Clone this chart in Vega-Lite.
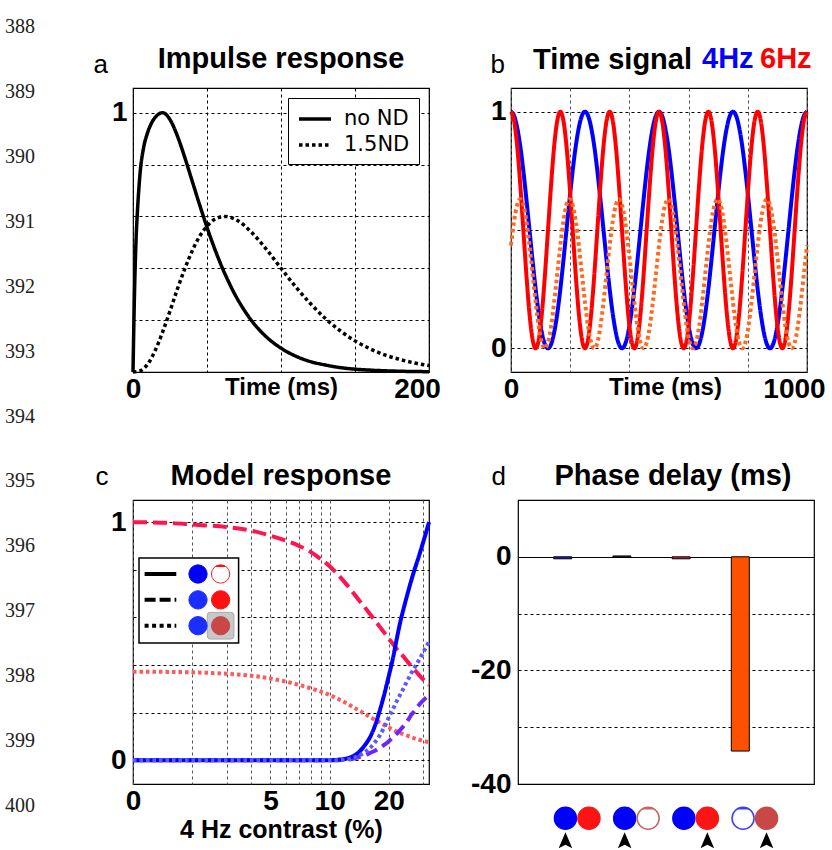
{
"$schema":"https://vega.github.io/schema/vega-lite/v6.json",
"padding":{"top":17,"left":0,"right":0,"bottom":0},
"background":"white",
"config":{
 "font":"Liberation Sans",
 "view":{"stroke":"#000","strokeWidth":1.2},
 "axis":{"domain":false,"ticks":false,"grid":true,"gridColor":"#000","gridDash":[3,3],"gridWidth":1,"gridOpacity":1,"labelFont":"Liberation Sans","labelFontWeight":"bold","labelFontSize":28,"labelColor":"#000","labelFlush":false,"labelOverlap":false,"titleFont":"Liberation Sans","titleFontWeight":"bold","titleColor":"#000"},
 "title":{"font":"Liberation Sans","fontWeight":"bold","fontSize":29,"color":"#000","frame":"group","baseline":"alphabetic","anchor":"middle"},
 "legend":{"labelFont":"DejaVu Sans","labelColor":"#000"}
},
"datasets":{
 "imp":[
  {"t":0,"s":"no ND","v":0},{"t":1,"s":"no ND","v":0.3},{"t":2,"s":"no ND","v":0.5},{"t":3,"s":"no ND","v":0.62},{"t":4,"s":"no ND","v":0.71},{"t":5,"s":"no ND","v":0.78},{"t":7,"s":"no ND","v":0.86},{"t":10,"s":"no ND","v":0.925},{"t":13,"s":"no ND","v":0.965},{"t":16,"s":"no ND","v":0.988},{"t":20,"s":"no ND","v":1.0},{"t":25,"s":"no ND","v":0.973},{"t":30,"s":"no ND","v":0.91},{"t":35,"s":"no ND","v":0.827},{"t":40,"s":"no ND","v":0.736},{"t":45,"s":"no ND","v":0.645},{"t":50,"s":"no ND","v":0.558},{"t":55,"s":"no ND","v":0.478},{"t":60,"s":"no ND","v":0.406},{"t":65,"s":"no ND","v":0.343},{"t":70,"s":"no ND","v":0.287},{"t":75,"s":"no ND","v":0.24},{"t":80,"s":"no ND","v":0.199},{"t":90,"s":"no ND","v":0.136},{"t":100,"s":"no ND","v":0.092},{"t":110,"s":"no ND","v":0.061},{"t":120,"s":"no ND","v":0.04},{"t":130,"s":"no ND","v":0.027},{"t":140,"s":"no ND","v":0.017},{"t":150,"s":"no ND","v":0.011},{"t":160,"s":"no ND","v":0.0073},{"t":180,"s":"no ND","v":0.003},{"t":200,"s":"no ND","v":0.0012},
  {"t":0,"s":"1.5ND","v":0},{"t":5,"s":"1.5ND","v":0.005},{"t":10,"s":"1.5ND","v":0.031},{"t":15,"s":"1.5ND","v":0.083},{"t":20,"s":"1.5ND","v":0.154},{"t":25,"s":"1.5ND","v":0.235},{"t":30,"s":"1.5ND","v":0.32},{"t":35,"s":"1.5ND","v":0.398},{"t":40,"s":"1.5ND","v":0.467},{"t":45,"s":"1.5ND","v":0.523},{"t":50,"s":"1.5ND","v":0.562},{"t":55,"s":"1.5ND","v":0.588},{"t":62,"s":"1.5ND","v":0.6},{"t":70,"s":"1.5ND","v":0.586},{"t":80,"s":"1.5ND","v":0.539},{"t":90,"s":"1.5ND","v":0.474},{"t":100,"s":"1.5ND","v":0.4},{"t":110,"s":"1.5ND","v":0.328},{"t":120,"s":"1.5ND","v":0.263},{"t":130,"s":"1.5ND","v":0.206},{"t":140,"s":"1.5ND","v":0.159},{"t":150,"s":"1.5ND","v":0.12},{"t":160,"s":"1.5ND","v":0.09},{"t":170,"s":"1.5ND","v":0.066},{"t":180,"s":"1.5ND","v":0.049},{"t":190,"s":"1.5ND","v":0.035},{"t":200,"s":"1.5ND","v":0.025}
 ],
 "sig":[
{"t":0,"a":1,"b":1,"c":0.435},{"t":10.4,"a":0.983,"b":0.962,"c":0.538},{"t":20.8,"a":0.933,"b":0.854,"c":0.606},{"t":31.3,"a":0.854,"b":0.691,"c":0.63},{"t":41.7,"a":0.75,"b":0.5,"c":0.606},{"t":52.1,"a":0.629,"b":0.309,"c":0.538},{"t":62.5,"a":0.5,"b":0.146,"c":0.435},{"t":72.9,"a":0.371,"b":0.038,"c":0.315},{"t":83.3,"a":0.25,"b":0,"c":0.195},{"t":93.8,"a":0.146,"b":0.038,"c":0.092},{"t":104.2,"a":0.067,"b":0.146,"c":0.024},{"t":114.6,"a":0.017,"b":0.309,"c":0},{"t":125,"a":0,"b":0.5,"c":0.024},{"t":135.4,"a":0.017,"b":0.691,"c":0.092},{"t":145.8,"a":0.067,"b":0.854,"c":0.195},{"t":156.3,"a":0.146,"b":0.962,"c":0.315},{"t":166.7,"a":0.25,"b":1,"c":0.435},{"t":177.1,"a":0.371,"b":0.962,"c":0.538},{"t":187.5,"a":0.5,"b":0.854,"c":0.606},{"t":197.9,"a":0.629,"b":0.691,"c":0.63},{"t":208.3,"a":0.75,"b":0.5,"c":0.606},{"t":218.8,"a":0.854,"b":0.309,"c":0.538},{"t":229.2,"a":0.933,"b":0.146,"c":0.435},{"t":239.6,"a":0.983,"b":0.038,"c":0.315},{"t":250,"a":1,"b":0,"c":0.195},{"t":260.4,"a":0.983,"b":0.038,"c":0.092},{"t":270.8,"a":0.933,"b":0.146,"c":0.024},{"t":281.3,"a":0.854,"b":0.309,"c":0},{"t":291.7,"a":0.75,"b":0.5,"c":0.024},{"t":302.1,"a":0.629,"b":0.691,"c":0.092},{"t":312.5,"a":0.5,"b":0.854,"c":0.195},{"t":322.9,"a":0.371,"b":0.962,"c":0.315},{"t":333.3,"a":0.25,"b":1,"c":0.435},{"t":343.8,"a":0.146,"b":0.962,"c":0.538},{"t":354.2,"a":0.067,"b":0.854,"c":0.606},{"t":364.6,"a":0.017,"b":0.691,"c":0.63},{"t":375,"a":0,"b":0.5,"c":0.606},{"t":385.4,"a":0.017,"b":0.309,"c":0.538},{"t":395.8,"a":0.067,"b":0.146,"c":0.435},{"t":406.3,"a":0.146,"b":0.038,"c":0.315},{"t":416.7,"a":0.25,"b":0,"c":0.195},{"t":427.1,"a":0.371,"b":0.038,"c":0.092},{"t":437.5,"a":0.5,"b":0.146,"c":0.024},{"t":447.9,"a":0.629,"b":0.309,"c":0},{"t":458.3,"a":0.75,"b":0.5,"c":0.024},{"t":468.8,"a":0.854,"b":0.691,"c":0.092},{"t":479.2,"a":0.933,"b":0.854,"c":0.195},{"t":489.6,"a":0.983,"b":0.962,"c":0.315},{"t":500,"a":1,"b":1,"c":0.435},
{"t":510.4,"a":0.983,"b":0.962,"c":0.538},{"t":520.8,"a":0.933,"b":0.854,"c":0.606},{"t":531.3,"a":0.854,"b":0.691,"c":0.63},{"t":541.7,"a":0.75,"b":0.5,"c":0.606},{"t":552.1,"a":0.629,"b":0.309,"c":0.538},{"t":562.5,"a":0.5,"b":0.146,"c":0.435},{"t":572.9,"a":0.371,"b":0.038,"c":0.315},{"t":583.3,"a":0.25,"b":0,"c":0.195},{"t":593.8,"a":0.146,"b":0.038,"c":0.092},{"t":604.2,"a":0.067,"b":0.146,"c":0.024},{"t":614.6,"a":0.017,"b":0.309,"c":0},{"t":625,"a":0,"b":0.5,"c":0.024},{"t":635.4,"a":0.017,"b":0.691,"c":0.092},{"t":645.8,"a":0.067,"b":0.854,"c":0.195},{"t":656.3,"a":0.146,"b":0.962,"c":0.315},{"t":666.7,"a":0.25,"b":1,"c":0.435},{"t":677.1,"a":0.371,"b":0.962,"c":0.538},{"t":687.5,"a":0.5,"b":0.854,"c":0.606},{"t":697.9,"a":0.629,"b":0.691,"c":0.63},{"t":708.3,"a":0.75,"b":0.5,"c":0.606},{"t":718.8,"a":0.854,"b":0.309,"c":0.538},{"t":729.2,"a":0.933,"b":0.146,"c":0.435},{"t":739.6,"a":0.983,"b":0.038,"c":0.315},{"t":750,"a":1,"b":0,"c":0.195},{"t":760.4,"a":0.983,"b":0.038,"c":0.092},{"t":770.8,"a":0.933,"b":0.146,"c":0.024},{"t":781.3,"a":0.854,"b":0.309,"c":0},{"t":791.7,"a":0.75,"b":0.5,"c":0.024},{"t":802.1,"a":0.629,"b":0.691,"c":0.092},{"t":812.5,"a":0.5,"b":0.854,"c":0.195},{"t":822.9,"a":0.371,"b":0.962,"c":0.315},{"t":833.3,"a":0.25,"b":1,"c":0.435},{"t":843.8,"a":0.146,"b":0.962,"c":0.538},{"t":854.2,"a":0.067,"b":0.854,"c":0.606},{"t":864.6,"a":0.017,"b":0.691,"c":0.63},{"t":875,"a":0,"b":0.5,"c":0.606},{"t":885.4,"a":0.017,"b":0.309,"c":0.538},{"t":895.8,"a":0.067,"b":0.146,"c":0.435},{"t":906.3,"a":0.146,"b":0.038,"c":0.315},{"t":916.7,"a":0.25,"b":0,"c":0.195},{"t":927.1,"a":0.371,"b":0.038,"c":0.092},{"t":937.5,"a":0.5,"b":0.146,"c":0.024},{"t":947.9,"a":0.629,"b":0.309,"c":0},{"t":958.3,"a":0.75,"b":0.5,"c":0.024},{"t":968.8,"a":0.854,"b":0.691,"c":0.092},{"t":979.2,"a":0.933,"b":0.854,"c":0.195},{"t":989.6,"a":0.983,"b":0.962,"c":0.315},{"t":1000,"a":1,"b":1,"c":0.435}
 ],
 "mod":[
{"c":1,"rd":1,"rt":0.372,"bs":0,"bt":0,"pd":0},{"c":1.5,"rd":0.997,"rt":0.371,"bs":0,"bt":0,"pd":0},{"c":2,"rd":0.99,"rt":0.369,"bs":0,"bt":0,"pd":0},{"c":3,"rd":0.979,"rt":0.363,"bs":0,"bt":0,"pd":0},{"c":4,"rd":0.964,"rt":0.355,"bs":0,"bt":0,"pd":0},{"c":5,"rd":0.943,"rt":0.343,"bs":0,"bt":0,"pd":0},{"c":6,"rd":0.922,"rt":0.33,"bs":0,"bt":0,"pd":0},{"c":7,"rd":0.9,"rt":0.316,"bs":0,"bt":0,"pd":0},{"c":8,"rd":0.875,"rt":0.302,"bs":0,"bt":0,"pd":0},{"c":9,"rd":0.845,"rt":0.288,"bs":0,"bt":0,"pd":0},{"c":10,"rd":0.815,"rt":0.274,"bs":0,"bt":0,"pd":0},{"c":11,"rd":0.78,"rt":0.258,"bs":0.002,"bt":0,"pd":0},{"c":12,"rd":0.745,"rt":0.242,"bs":0.006,"bt":0.002,"pd":0.001},{"c":13,"rd":0.71,"rt":0.226,"bs":0.015,"bt":0.008,"pd":0.005},{"c":14,"rd":0.675,"rt":0.21,"bs":0.032,"bt":0.018,"pd":0.012},{"c":15,"rd":0.645,"rt":0.196,"bs":0.06,"bt":0.032,"pd":0.02},{"c":16,"rd":0.615,"rt":0.182,"bs":0.095,"bt":0.05,"pd":0.03},{"c":17,"rd":0.587,"rt":0.17,"bs":0.145,"bt":0.075,"pd":0.04},{"c":18,"rd":0.56,"rt":0.158,"bs":0.21,"bt":0.105,"pd":0.052},{"c":19,"rd":0.535,"rt":0.147,"bs":0.28,"bt":0.14,"pd":0.065},{"c":20,"rd":0.51,"rt":0.137,"bs":0.355,"bt":0.18,"pd":0.08},{"c":21,"rd":0.488,"rt":0.128,"bs":0.43,"bt":0.215,"pd":0.096},{"c":22,"rd":0.466,"rt":0.12,"bs":0.515,"bt":0.25,"pd":0.112},{"c":23,"rd":0.448,"rt":0.113,"bs":0.59,"bt":0.28,"pd":0.13},{"c":24,"rd":0.43,"rt":0.108,"bs":0.65,"bt":0.31,"pd":0.148},{"c":25,"rd":0.412,"rt":0.102,"bs":0.705,"bt":0.338,"pd":0.168},{"c":26,"rd":0.395,"rt":0.097,"bs":0.755,"bt":0.365,"pd":0.19},{"c":27,"rd":0.38,"rt":0.092,"bs":0.8,"bt":0.388,"pd":0.207},{"c":28,"rd":0.365,"rt":0.088,"bs":0.84,"bt":0.41,"pd":0.225},{"c":30,"rd":0.338,"rt":0.081,"bs":0.92,"bt":0.455,"pd":0.252},{"c":32,"rd":0.316,"rt":0.075,"bs":1,"bt":0.497,"pd":0.274}
 ]
},
"spacing":52,
"resolve":{"scale":{"color":"independent","strokeDash":"independent","fill":"independent","stroke":"independent"},"legend":{"color":"independent","strokeDash":"independent"}},
"hconcat":[
 {
  "width":40,"height":779,
  "view":{"stroke":null},
  "data":{"values":[{"n":388},{"n":389},{"n":390},{"n":391},{"n":392},{"n":393},{"n":394},{"n":395},{"n":396},{"n":397},{"n":398},{"n":399},{"n":400}]},
  "mark":{"type":"text","font":"Liberation Serif","fontSize":20,"fill":"#222","baseline":"middle"},
  "encoding":{
   "y":{"field":"n","type":"quantitative","scale":{"domain":[388.9396,400.9396],"reverse":true,"nice":false,"zero":false},"axis":null},
   "text":{"field":"n","type":"nominal"}
  }
 },
 {
  "spacing":57,
  "resolve":{"scale":{"color":"independent","strokeDash":"independent","fill":"independent","stroke":"independent"},"legend":{"color":"independent","strokeDash":"independent"}},
  "vconcat":[
   {
    "spacing":48,
    "resolve":{"scale":{"color":"independent","strokeDash":"independent","fill":"independent","stroke":"independent"},"legend":{"color":"independent","strokeDash":"independent"}},
    "hconcat":[
     {
      "width":296,"height":284,
      "title":{"text":"Impulse response","offset":-23},
      "data":{"name":"imp"},
      "mark":{"type":"line","color":"#000","strokeWidth":3.5,"interpolate":"monotone"},
      "encoding":{
       "x":{"field":"t","type":"quantitative","scale":{"domain":[0,200],"nice":false},
        "axis":{"values":[0,50,100,150,200],"title":null,"labelPadding":3,
         "labelExpr":"datum.value==0?'0':datum.value==100?'Time (ms)':datum.value==200?'200':''",
         "labelFontSize":{"condition":{"test":"datum.value==100","value":24},"value":28},
         "labelOffset":{"condition":{"test":"datum.value==200","value":-12},"value":0}}},
       "y":{"field":"v","type":"quantitative","scale":{"domain":[0,1.095],"nice":false,"zero":false},
        "axis":{"values":[0.2,0.4,0.6,0.8,1],"labelExpr":"datum.value==1?'1':''","labelPadding":6,
         "title":"a","titleAngle":0,"titleAlign":"left","titleBaseline":"alphabetic","titleX":-40,"titleY":-16,"titleFontSize":26,"titleFontWeight":"normal"}},
       "strokeDash":{"field":"s","type":"nominal","scale":{"domain":["no ND","1.5ND"],"range":[[1,0],[3.5,3]]},
        "legend":{"title":null,"orient":"top-right","offset":10,"fillColor":"#fff","strokeColor":"#000","padding":9,"labelFontSize":21,"labelFont":"DejaVu Sans","labelOffset":23,"symbolType":"M-1,0L2.2,0","symbolSize":400,"symbolStrokeWidth":3.5,"symbolStrokeColor":"#000","rowPadding":4}}
      }
     },
     {
      "width":296,"height":284,
      "title":{"text":"Time signal","anchor":"start","dx":22,"offset":-31},
      "data":{"name":"sig"},
      "transform":[{"fold":["a","b","c"],"as":["s","v"]}],
      "mark":{"type":"line","strokeWidth":4,"interpolate":"monotone"},
      "encoding":{
       "x":{"field":"t","type":"quantitative","scale":{"domain":[0,1000],"nice":false},
        "axis":{"values":[0,200,400,520,600,800,1000],"title":null,"labelPadding":3,"gridColor":"#555",
         "gridOpacity":{"condition":{"test":"datum.value==520","value":0},"value":1},
         "labelExpr":"datum.value==0?'0':datum.value==520?'Time (ms)':datum.value==1000?'1000':''",
         "labelFontSize":{"condition":{"test":"datum.value==520","value":24},"value":28},
         "labelOffset":{"condition":{"test":"datum.value==1000","value":-13},"value":0}}},
       "y":{"field":"v","type":"quantitative","scale":{"domain":[-0.1,1.1],"nice":false,"zero":false},
        "axis":{"values":[0,0.5,1],"labelExpr":"datum.value==1?'1':datum.value==0?'0':''","labelPadding":5,
         "title":"b","titleAngle":0,"titleAlign":"left","titleBaseline":"alphabetic","titleX":-21,"titleY":-16,"titleFontSize":26,"titleFontWeight":"normal"}},
       "color":{"field":"s","type":"nominal","scale":{"domain":["a","b","c"],"range":["#0000ff","#ff0000","#ff6a1f"]},
        "legend":{"values":["a"],"title":null,"orient":"none","legendX":162,"legendY":-44,"padding":0,"symbolSize":0,"symbolStrokeWidth":0,"symbolOpacity":0,"labelOffset":0,"labelFont":"Liberation Sans","labelFontSize":29,"labelFontWeight":"bold","labelColor":"#0000ff","labelExpr":"'4Hz'"}},
       "strokeDash":{"field":"s","type":"nominal","scale":{"domain":["b","c","a"],"range":[[1,0],[3.5,3],[1,0]]},
        "legend":{"values":["b"],"title":null,"orient":"none","legendX":220,"legendY":-44,"padding":0,"symbolSize":0,"symbolStrokeWidth":0,"symbolOpacity":0,"labelOffset":0,"labelFont":"Liberation Sans","labelFontSize":29,"labelFontWeight":"bold","labelColor":"#ff0000","labelExpr":"'6Hz'"}}
      }
     }
    ]
   },
   {
    "spacing":31,
    "resolve":{"scale":{"color":"independent","strokeDash":"independent","fill":"independent","stroke":"independent"},"legend":{"color":"independent","strokeDash":"independent"}},
    "hconcat":[
     {
      "width":296,"height":284,
      "title":{"text":"Model response","offset":-28},
      "layer":[
       {
        "data":{"name":"mod"},
        "transform":[{"fold":["rt","rd","pd","bs","bt"],"as":["s","v"]}],
        "mark":{"type":"line","strokeWidth":4,"interpolate":"monotone"},
        "encoding":{
         "x":{"field":"c","type":"quantitative","scale":{"type":"log","domain":[1,32],"nice":false},
          "axis":{"values":[1,2,3,4,5,6,7,8,9,10,20,30],"gridColor":"#555","labelPadding":3,
           "labelExpr":"datum.value==1?'0':datum.value==5?'5':datum.value==10?'10':datum.value==20?'20':''",
           "title":"4 Hz contrast (%)","titleFontSize":25,"titlePadding":2}},
         "y":{"field":"v","type":"quantitative","scale":{"domain":[-0.1,1.093],"nice":false,"zero":false},
          "axis":{"values":[0,0.2,0.4,0.6,0.8,1],"labelExpr":"datum.value==1?'1':datum.value==0?'0':''","labelPadding":7,
           "title":"c","titleAngle":0,"titleAlign":"left","titleBaseline":"alphabetic","titleX":-38,"titleY":-16,"titleFontSize":26,"titleFontWeight":"normal"}},
         "color":{"field":"s","type":"nominal","scale":{"domain":["rt","rd","pd","bs","bt"],"range":["#ff5a5a","#ff1450","#6a28ff","#0000ff","#5a5aff"]},"legend":null},
         "strokeDash":{"field":"s","type":"nominal","scale":{"domain":["rt","rd","pd","bs","bt"],"range":[[3.5,3],[14,6],[12,6],[1,0],[3.5,3]]},"legend":null}
        }
       },
       {
        "layer":[
         {
          "data":{"values":[{"row":1,"slot":"L"}]},
          "mark":{"type":"point","shape":"M-5.9,-4.185H4.06V4.315H-5.9Z","size":400,"filled":true,"fill":"#fff","stroke":"#000","strokeWidth":1.5,"opacity":1},
          "encoding":{
           "x":{"field":"slot","type":"nominal","scale":{"type":"point","domain":["line","L","R"],"range":[42.4,87.6],"padding":0},"axis":null},
           "y":{"field":"row","type":"ordinal","scale":{"type":"point","domain":[0,1,2],"range":[74,125.7],"padding":0},"axis":null}
          }
         },
         {
          "data":{"values":[{"row":2,"slot":"R"}]},
          "mark":{"type":"point","shape":"M-1.035,-1.335H1.035Q1.335,-1.335 1.335,-1.035V1.035Q1.335,1.335 1.035,1.335H-1.035Q-1.335,1.335 -1.335,1.035V-1.035Q-1.335,-1.335 -1.035,-1.335Z","size":400,"filled":true,"fill":"#c8c8c8","stroke":"#a8a8a8","strokeWidth":1,"opacity":1},
          "encoding":{
           "x":{"field":"slot","type":"nominal","axis":null},
           "y":{"field":"row","type":"ordinal","axis":null}
          }
         },
         {
          "data":{"values":[{"row":0,"slot":"L","k":"b1"},{"row":0,"slot":"R","k":"open"},{"row":1,"slot":"L","k":"b2"},{"row":1,"slot":"R","k":"red"},{"row":2,"slot":"L","k":"b2"},{"row":2,"slot":"R","k":"dark"}]},
          "mark":{"type":"point","shape":"circle","size":335,"filled":true,"strokeWidth":1,"opacity":1},
          "encoding":{
           "x":{"field":"slot","type":"nominal","axis":null},
           "y":{"field":"row","type":"ordinal","axis":null},
           "fill":{"field":"k","type":"nominal","scale":{"domain":["b1","b2","open","red","dark"],"range":["#0000ff","#1a2eff","#ffffff","#ff1010","#c84848"]},"legend":null},
           "stroke":{"field":"k","type":"nominal","scale":{"domain":["b1","b2","open","red","dark"],"range":["#0000ff","#1a2eff","#ff2020","#ff1010","#c84848"]},"legend":null}
          }
         },
         {
          "data":{"values":[{"row":0,"slot":"R"}]},
          "mark":{"type":"point","shape":"M-0.589,-0.7A0.915,0.915 0 0 1 0.589,-0.7Z","size":400,"filled":true,"fill":"#ff1010","strokeWidth":0,"opacity":1},
          "encoding":{
           "x":{"field":"slot","type":"nominal","axis":null},
           "y":{"field":"row","type":"ordinal","axis":null}
          }
         },
         {
          "data":{"values":[{"row":0,"slot":"line","st":"solid"},{"row":1,"slot":"line","st":"dash"},{"row":2,"slot":"line","st":"dot"}]},
          "mark":{"type":"point","shape":"M-3.08,0L0.09,0","size":400,"filled":false,"stroke":"#000","strokeWidth":4,"opacity":1,"strokeCap":"butt"},
          "encoding":{
           "x":{"field":"slot","type":"nominal","axis":null},
           "y":{"field":"row","type":"ordinal","axis":null},
           "strokeDash":{"field":"st","type":"nominal","scale":{"domain":["solid","dash","dot"],"range":[[1,0],[11,4],[4,3.5]]},"legend":null}
          }
         }
        ]
       }
      ],
      "resolve":{"scale":{"x":"independent","y":"independent","color":"independent","strokeDash":"independent","fill":"independent","stroke":"independent"}}
     },
     {
      "width":296,"height":284,
      "title":{"text":"Phase delay (ms)","offset":-28,"dx":7},
      "layer":[
       {
        "data":{"values":[{"cond":1,"delay":-0.35,"k":"c1"},{"cond":2,"delay":0.15,"k":"c2"},{"cond":3,"delay":-0.35,"k":"c3"},{"cond":4,"delay":-34.2,"k":"c4"}]},
        "mark":{"type":"bar","stroke":"#000","strokeWidth":1},
        "encoding":{
         "x":{"field":"cond","type":"ordinal","scale":{"type":"band","domain":[1,2,3,4],"paddingInner":0.206,"paddingOuter":0.603},"axis":null},
         "y":{"field":"delay","type":"quantitative","scale":{"domain":[-40,10],"nice":false},
          "axis":{"values":[-40,-30,-20,-10,0],"labelExpr":"datum.value==0?'0':datum.value==-20?'-20':datum.value==-40?'-40':''","labelPadding":7,
           "gridDash":{"condition":{"test":"datum.value==0","value":[]},"value":[3,3]},
           "title":"d","titleAngle":0,"titleAlign":"left","titleBaseline":"alphabetic","titleX":-27,"titleY":-16,"titleFontSize":26,"titleFontWeight":"normal"}},
         "fill":{"field":"k","type":"nominal","scale":{"domain":["c1","c2","c3","c4"],"range":["#2020e0","#666666","#e02050","#ff5000"]},"legend":null}
        }
       },
       {
        "layer":[
         {
          "data":{"values":[{"cond":1,"side":"L","part":"c","k":"blue"},{"cond":1,"side":"R","part":"c","k":"red"},{"cond":2,"side":"L","part":"c","k":"blue"},{"cond":2,"side":"R","part":"c","k":"oBrown"},{"cond":3,"side":"L","part":"c","k":"blue"},{"cond":3,"side":"R","part":"c","k":"red"},{"cond":4,"side":"L","part":"c","k":"oBlue"},{"cond":4,"side":"R","part":"c","k":"dark"}]},
          "mark":{"type":"point","shape":"circle","size":484,"filled":true,"strokeWidth":1.5,"opacity":1},
          "encoding":{
           "x":{"field":"cond","type":"ordinal","axis":null},
           "xOffset":{"field":"side","type":"nominal","scale":{"domain":["L","R"]}},
           "y":{"field":"part","type":"nominal","scale":{"type":"point","domain":["c","a"],"range":[318.3,340.3],"padding":0},"axis":null},
           "fill":{"field":"k","type":"nominal","scale":{"domain":["blue","red","oBrown","oBlue","dark"],"range":["#0000ff","#ff1414","#ffffff","#ffffff","#c84848"]},"legend":null},
           "stroke":{"field":"k","type":"nominal","scale":{"domain":["blue","red","oBrown","oBlue","dark"],"range":["#0000ff","#ff1414","#c86464","#3c3cff","#c84848"]},"legend":null}
          }
         },
         {
          "data":{"values":[{"cond":2,"side":"R","part":"c","k":"capB"},{"cond":4,"side":"L","part":"c","k":"capU"}]},
          "mark":{"type":"point","shape":"M-0.6,-0.8A1,1 0 0 1 0.6,-0.8Z","size":484,"filled":true,"strokeWidth":0,"opacity":1},
          "encoding":{
           "x":{"field":"cond","type":"ordinal","axis":null},
           "xOffset":{"field":"side","type":"nominal","scale":{"domain":["L","R"]}},
           "y":{"field":"part","type":"nominal","axis":null},
           "color":{"field":"k","type":"nominal","scale":{"domain":["capB","capU"],"range":["#c86464","#3c3cff"]},"legend":null}
          }
         },
         {
          "data":{"values":[{"cond":1,"side":"L","part":"a"},{"cond":2,"side":"L","part":"a"},{"cond":3,"side":"R","part":"a"},{"cond":4,"side":"R","part":"a"}]},
          "mark":{"type":"point","shape":"M0,-1L0.85,1L0,0.55L-0.85,1Z","size":256,"filled":true,"fill":"#000","strokeWidth":0,"opacity":1},
          "encoding":{
           "x":{"field":"cond","type":"ordinal","axis":null},
           "xOffset":{"field":"side","type":"nominal","scale":{"domain":["L","R"]}},
           "y":{"field":"part","type":"nominal","axis":null}
          }
         }
        ]
       }
      ],
      "resolve":{"scale":{"y":"independent","fill":"independent","stroke":"independent","color":"independent"}}
     }
    ]
   }
  ]
 }
]
}
